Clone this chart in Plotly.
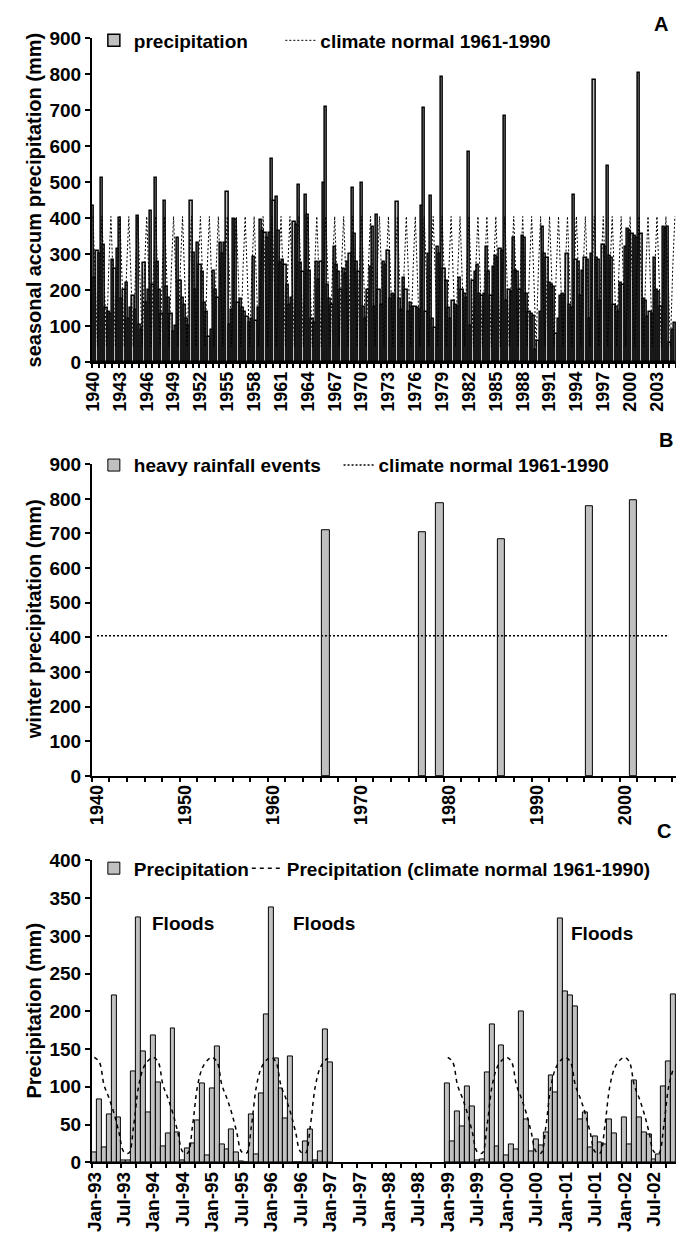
import plotly.graph_objects as go

W, H = 676, 1248
FONT = "Liberation Sans, Arial, sans-serif"
GRAY = "#c0c0c0"

# ---------------- Panel A: seasonal accumulated precipitation 1940-2005 ----------------
season_precip = [
    435, 235, 310, 300, 513, 327, 150, 140, 135, 283, 260, 315,
    400, 175, 200, 220, 120, 150, 185, 145, 405, 105, 90, 275,
    165, 200, 420, 215, 513, 280, 200, 135, 447, 210, 180, 135,
    85, 100, 345, 225, 180, 160, 120, 100, 447, 305, 200, 330,
    270, 250, 165, 140, 70, 90, 255, 200, 180, 330, 300, 330,
    472, 105, 145, 397, 395, 165, 175, 150, 140, 125, 110, 120,
    293, 115, 150, 395, 365, 360, 345, 360, 565, 447, 460, 365,
    275, 285, 270, 215, 160, 180, 390, 380, 492, 275, 250, 465,
    410, 255, 120, 110, 280, 230, 280, 497, 708, 215, 175, 160,
    320, 270, 250, 200, 260, 245, 280, 300, 484, 355, 280, 250,
    498, 155, 120, 200, 265, 375, 155, 410, 200, 160, 280, 270,
    310, 175, 190, 185, 446, 175, 145, 235, 200, 140, 165, 155,
    155, 150, 145, 433, 707, 140, 300, 463, 120, 95, 320, 300,
    792, 260, 225, 150, 120, 170, 160, 155, 235, 200, 190, 180,
    583, 100, 225, 250, 270, 190, 185, 190, 320, 250, 185, 265,
    295, 290, 315, 310, 685, 170, 200, 195, 345, 255, 250, 200,
    350, 345, 190, 140, 135, 130, 35, 60, 140, 375, 300, 290,
    220, 215, 210, 80, 120, 185, 190, 185, 300, 160, 150, 464,
    285, 280, 185, 255, 290, 285, 120, 300, 784, 290, 285, 170,
    325, 320, 544, 295, 290, 160, 155, 140, 220, 215, 320, 370,
    365, 355, 350, 345, 802, 355, 175, 170, 125, 140, 135, 290,
    200, 195, 155, 375, 370, 375, 55, 90, 110,
]
season_normal = [405, 230, 44, 255]  # DJF, MAM, JJA, SON (1961-1990)
a_tick_labels = ["1940", "1943", "1946", "1949", "1952", "1955", "1958", "1961",
                 "1964", "1967", "1970", "1973", "1976", "1979", "1982", "1985",
                 "1988", "1991", "1994", "1997", "2000", "2003"]

# ---------------- Panel B: heavy winter rainfall events ----------------
b_years = [1966, 1977, 1979, 1986, 1996, 2001]
b_values = [708, 703, 788, 682, 780, 797]
b_normal = 405
b_first_year, b_last_year = 1940, 2005
b_tick_labels = ["1940", "1950", "1960", "1970", "1980", "1990", "2000"]

# ---------------- Panel C: monthly precipitation Jan-93 .. Nov-02 ----------------
c_precip = [
    13, 83, 20, 64, 221, 60, 2, 2, 121, 325, 147, 66,          # 1993
    168, 106, 21, 38, 177, 40, 2, 19, 25, 56, 104, 9,          # 1994
    98, 153, 23, 17, 43, 13, 1, 0, 64, 10, 91, 196,            # 1995
    338, 138, 98, 58, 140, 0, 0, 27, 43, 2, 14, 176,           # 1996
    132, None, None, None, None, None, None, None, None, None, None, None,  # 1997
    None, None, None, None, None, None, None, None, None, None, None, None,  # 1998
    104, 27, 68, 47, 100, 74, 2, 4, 119, 183, 21, 155,         # 1999
    9, 23, 17, 200, 57, 14, 30, 22, 40, 115, 92, 323,          # 2000
    226, 221, 206, 57, 66, 20, 34, 26, 23, 57, 38, 0,          # 2001
    60, 23, 108, 60, 40, 37, 4, 10, 100, 134, 223,             # 2002
]
c_normal_month = [139, 133, 102, 85, 65, 40, 14, 12, 48, 100, 125, 135]
c_tick_labels = ["Jan-93", "Jul-93", "Jan-94", "Jul-94", "Jan-95", "Jul-95",
                 "Jan-96", "Jul-96", "Jan-97", "Jul-97", "Jan-98", "Jul-98",
                 "Jan-99", "Jul-99", "Jan-00", "Jul-00", "Jan-01", "Jul-01",
                 "Jan-02", "Jul-02"]
c_floods = [(18.0, 316), (46.8, 316), (103.4, 303)]

# ---------------- derived series ----------------
a_x = list(range(len(season_precip)))
a_norm = [season_normal[i % 4] for i in a_x]
a_tickvals = [12 * i for i in range(len(a_tick_labels))]

b_line_x = list(range(b_first_year, b_last_year + 1))
b_line_y = [b_normal for _ in b_line_x]
b_tickvals = [int(t) for t in b_tick_labels]

c_x = list(range(len(c_precip)))
c_norm = [c_normal_month[k % 12] if c_precip[k] is not None else None for k in c_x]
c_tickvals = [6 * i for i in range(len(c_tick_labels))]

fig = go.Figure()

bar_style = dict(color=GRAY, line=dict(color="black", width=1))
bar_style_dense = dict(color=GRAY, line=dict(color="black", width=1.5))

fig.add_trace(go.Bar(x=a_x, y=season_precip, width=1, marker=bar_style_dense,
                     name="precipitation", xaxis="x", yaxis="y", legend="legend"))
fig.add_trace(go.Scatter(x=a_x, y=a_norm, mode="lines",
                         line=dict(color="black", width=1, dash="2px,2px"),
                         name="climate normal 1961-1990", xaxis="x", yaxis="y",
                         legend="legend2"))

fig.add_trace(go.Bar(x=b_years, y=b_values, width=0.85, marker=bar_style,
                     name="heavy rainfall events", xaxis="x2", yaxis="y2",
                     legend="legend3"))
fig.add_trace(go.Scatter(x=b_line_x, y=b_line_y, mode="lines",
                         line=dict(color="black", width=1.5, dash="2px,2px"),
                         name="climate normal 1961-1990", xaxis="x2", yaxis="y2",
                         legend="legend4"))

fig.add_trace(go.Bar(x=c_x, y=c_precip, width=1, marker=bar_style,
                     name="Precipitation", xaxis="x3", yaxis="y3", legend="legend5"))
fig.add_trace(go.Scatter(x=c_x, y=c_norm, mode="lines", connectgaps=False,
                         line=dict(color="black", width=1.5, dash="4px,4px",
                                   shape="spline", smoothing=1.0),
                         name="Precipitation (climate normal 1961-1990)",
                         xaxis="x3", yaxis="y3", legend="legend6"))

tickfont = dict(family=FONT, size=19, color="black", weight="bold")
xtickfont = dict(family=FONT, size=18, color="black", weight="bold")
xtickfont_c = dict(family=FONT, size=19, color="black", weight="bold")
xdom = [84 / W, 1.0]


def ydom(top_px, bottom_px):
    return [1 - bottom_px / H, 1 - top_px / H]


axis_common = dict(showline=True, linecolor="black", linewidth=2, showgrid=False,
                   zeroline=False, mirror=False)

legend_common = dict(orientation="h", xanchor="left", yanchor="middle",
                     bgcolor="rgba(0,0,0,0)", font=dict(size=19))

layout = dict(
    width=W, height=H,
    margin=dict(l=0, r=0, t=0, b=0),
    paper_bgcolor="white", plot_bgcolor="white",
    showlegend=True,
    font=dict(family=FONT, size=19, color="black", weight="bold"),
    xaxis=dict(domain=xdom, anchor="y", range=[-0.5, len(season_precip) - 0.5],
               tickmode="array", tickvals=a_tickvals, ticktext=a_tick_labels,
               tickangle=-90, ticks="", tickfont=xtickfont,
               minor=dict(ticks="outside", tick0=-0.5, dtick=3, ticklen=4,
                          tickwidth=1.5, tickcolor="black"),
               **axis_common),
    yaxis=dict(domain=ydom(28.5, 358.5), anchor="x", range=[0, 900], dtick=100,
               ticks="outside", ticklen=5, tickwidth=2, tickcolor="black",
               tickfont=tickfont, **axis_common),
    xaxis2=dict(domain=xdom, anchor="y2", range=[1939.42, 2005.83],
                tickmode="array", tickvals=b_tickvals, ticktext=b_tick_labels,
                tickangle=-90, ticks="", tickfont=xtickfont,
                minor=dict(ticks="outside", tick0=1939.42, dtick=2, ticklen=4,
                           tickwidth=1.5, tickcolor="black"),
                **axis_common),
    yaxis2=dict(domain=ydom(462, 779), anchor="x2", range=[0, 900], dtick=100,
                ticks="outside", ticklen=5, tickwidth=2, tickcolor="black",
                tickfont=tickfont, **axis_common),
    xaxis3=dict(domain=xdom, anchor="y3", range=[-0.5, len(c_precip) - 0.5],
                tickmode="array", tickvals=c_tickvals, ticktext=c_tick_labels,
                tickangle=-90, ticks="", tickfont=xtickfont_c,
                minor=dict(ticks="outside", tick0=-0.5, dtick=3, ticklen=4,
                           tickwidth=1.5, tickcolor="black"),
                **axis_common),
    yaxis3=dict(domain=ydom(865, 1172), anchor="x3", range=[0, 400], dtick=50,
                ticks="outside", ticklen=5, tickwidth=2, tickcolor="black",
                tickfont=tickfont, **axis_common),
    legend=dict(x=86 / W, y=1 - 31 / H, **legend_common),
    legend2=dict(x=275 / W, y=1 - 31 / H, **legend_common),
    legend3=dict(x=86 / W, y=1 - 463 / H, **legend_common),
    legend4=dict(x=334 / W, y=1 - 463 / H, **legend_common),
    legend5=dict(x=86 / W, y=1 - 873 / H, **legend_common),
    legend6=dict(x=241 / W, y=1 - 873 / H, **legend_common),
    bargap=0,
)
fig.update_layout(**layout)

annots = []
for txt, cy in [("seasonal accum precipitation (mm)", 193),
                ("winter precipitation (mm)", 620),
                ("Precipitation (mm)", 1018)]:
    annots.append(dict(text=txt, x=25 / W, y=1 - cy / H, xref="paper", yref="paper",
                       xanchor="center", yanchor="middle", textangle=-90,
                       showarrow=False, font=dict(family=FONT, size=20, weight="bold")))
for txt, px, py in [("A", 661, 14), ("B", 666, 437), ("C", 664, 835)]:
    annots.append(dict(text=txt, x=px / W, y=1 - py / H, xref="paper", yref="paper",
                       xanchor="center", yanchor="middle", showarrow=False,
                       font=dict(family=FONT, size=20, weight="bold")))
for fx, fy in c_floods:
    annots.append(dict(text="Floods", x=fx, y=fy, xref="x3", yref="y3",
                       xanchor="center", yanchor="middle", showarrow=False,
                       font=dict(family=FONT, size=19, weight="bold")))
fig.update_layout(annotations=annots)

fig.write_html("out.html")
